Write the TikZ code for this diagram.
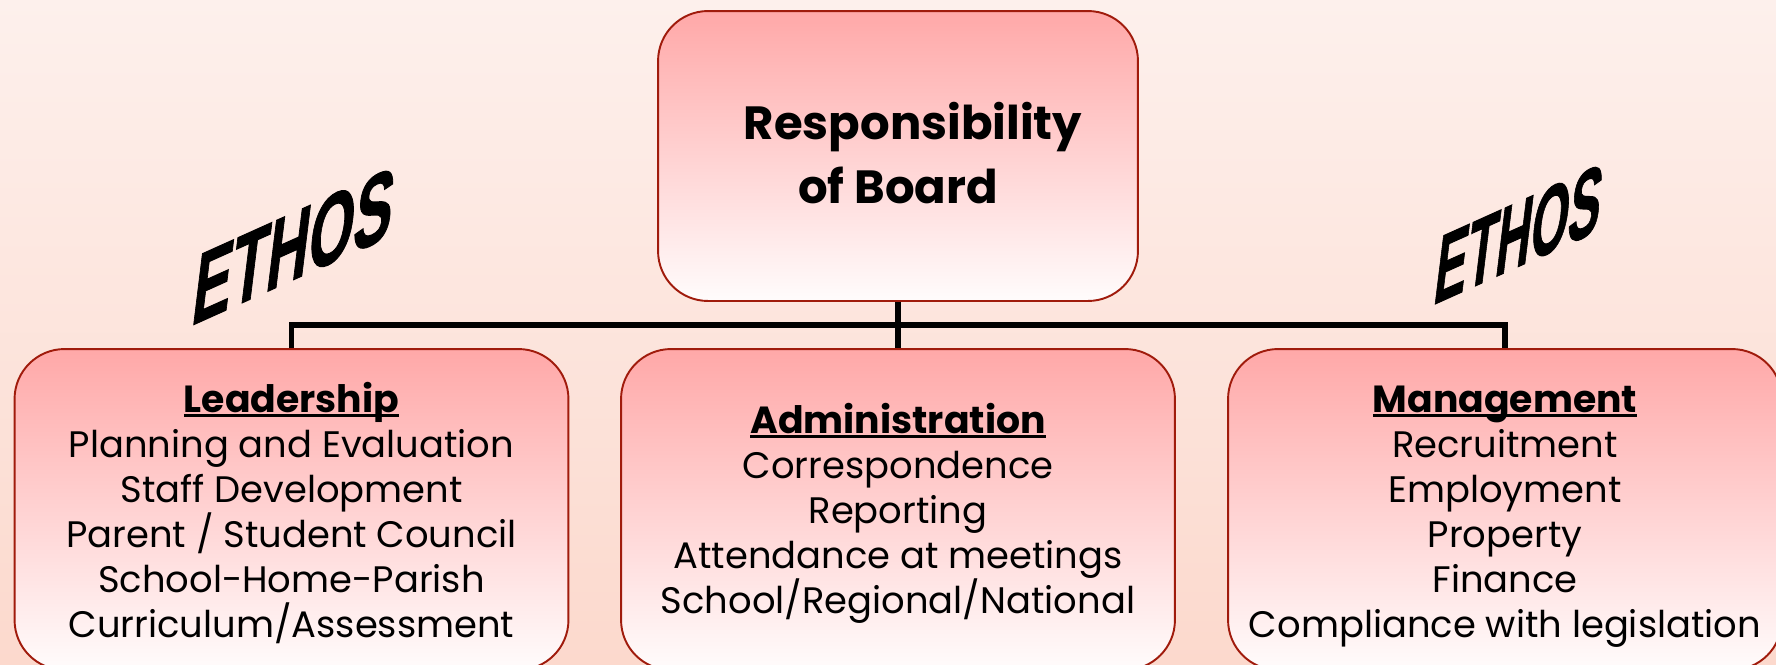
\documentclass[tikz,border=0pt]{standalone}
\usepackage{fontspec}
\setmainfont{Poppins}
\newfontfamily\ethosfont[BoldFeatures={FakeBold=1.2}]{Liberation Sans}
\usetikzlibrary{calc,shadings}

\definecolor{bgtop}{HTML}{FDF0EC}
\definecolor{bgmid}{HTML}{FEE6DF}
\definecolor{bgbot}{HTML}{FCD9CD}
\definecolor{cardtop}{HTML}{FFA8A8}
\definecolor{cardbot}{HTML}{FFFCFC}
\definecolor{cardline}{HTML}{A01B0C}

\newsavebox\headbox
\newcommand{\headul}[1]{\sbox\headbox{#1}\rlap{\rule[-2.8pt]{\wd\headbox}{1.6pt}}\usebox\headbox}

\begin{document}
\begin{tikzpicture}[x=0.02cm, y=0.02cm,
    card/.style={rectangle, rounded corners=1cm, draw=cardline, line width=1.1pt,
      top color=cardtop, bottom color=cardbot, inner sep=0pt,
      minimum width=11.08cm, minimum height=6.42cm},
    cardtext/.style={align=center, inner sep=0pt, anchor=base,
      font=\fontsize{21}{25.6}\selectfont},
    link/.style={line width=3.4pt, black},
    ethos/.style={font=\ethosfont\bfseries\fontsize{33}{36}\selectfont,
      inner sep=0pt, transform shape}]
  \useasboundingbox (0,0) rectangle (1776,-664);
  \clip (0,0) rectangle (1776,-664);
  \shade[top color=bgtop, middle color=bgmid, bottom color=bgbot] (0,0) rectangle (1776,-664);

  % boxes
  \node[card, minimum width=9.6cm, minimum height=5.8cm] (board) at (898,-156) {};
  \node[card] (lead) at (291.5,-509.5) {};
  \node[card] (admin) at (898,-509.5) {};
  \node[card] (mgmt) at (1505,-509.5) {};

  % connectors
  \coordinate (bus) at ($(board.south)!0.5!(admin.north)$);
  \draw[link] (board.south) -- (admin.north);
  \draw[link] (lead.north) |- (bus) -| (mgmt.north);

  % texts (base = last line)
  \node[align=center, inner sep=0pt, anchor=base,
    font=\fontsize{26.5}{35.9}\selectfont\bfseries] (boardtxt) at (898,-203)
    {\hspace*{0.6cm}Responsibility\\of Board};
  \node[cardtext] (leadtxt) at (291.5,-637)
    {{\fontsize{21.5}{25.6}\selectfont\bfseries\headul{Leadership}}\\
     Planning and Evaluation\\ Staff Development\\ Parent / Student Council\\
     School-Home-Parish\\ Curriculum/Assessment};
  \node[cardtext] (admintxt) at (898,-613)
    {{\fontsize{21.5}{25.6}\selectfont\bfseries\headul{Administration}}\\
     Correspondence\\ Reporting\\ Attendance at meetings\\ School/Regional/National};
  \node[cardtext] (mgmttxt) at (1505,-637)
    {{\fontsize{21.5}{25.6}\selectfont\bfseries\headul{Management}}\\
     Recruitment\\ Employment\\ Property\\ Finance\\ Compliance with legislation};

  % slanted words
  \node[ethos, yslant=0.45, xslant=0.13, yscale=1.68] (ethosL) at (294,-246) {ETHOS};
  \node[ethos, yslant=0.45, xslant=0.13, yscale=1.95, scale=0.83] (ethosR) at (1519,-234) {ETHOS};
\end{tikzpicture}
\end{document}
